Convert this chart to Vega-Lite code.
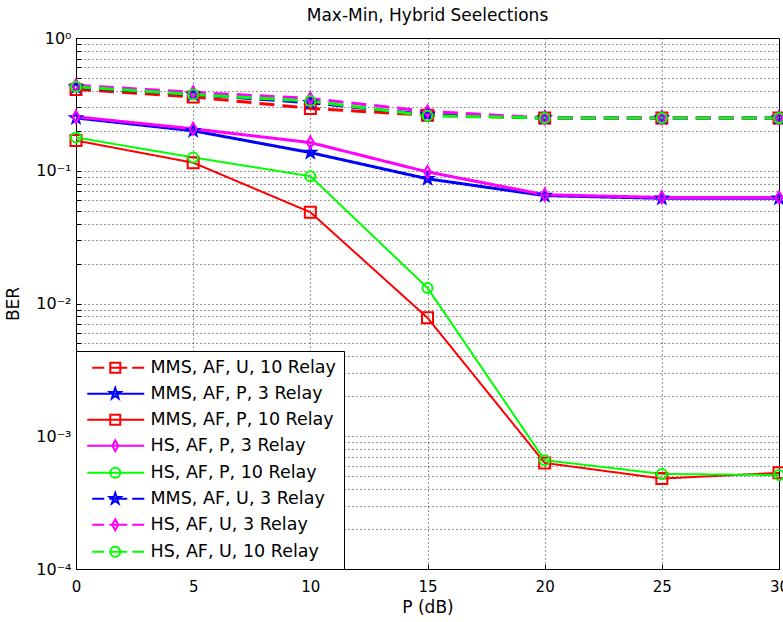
{
  "$schema": "https://vega.github.io/schema/vega-lite/v6.json",
  "width": 703,
  "height": 531,
  "autosize": {"type": "none"},
  "padding": {"left": 76, "top": 38, "right": 4, "bottom": 53},
  "background": "white",
  "title": {"text": "Max-Min, Hybrid Seelections", "font": "DejaVu Sans", "fontSize": 17, "fontWeight": "normal", "color": "#000", "offset": 5, "anchor": "middle"},
  "config": {
    "view": {"stroke": "black", "strokeWidth": 1},
    "axis": {
      "domainColor": "#000", "tickColor": "#000", "labelColor": "#000", "titleColor": "#000",
      "labelFont": "DejaVu Sans", "labelFontSize": 15, "titleFont": "DejaVu Sans", "titleFontSize": 17, "titleFontWeight": "normal",
      "gridColor": "#000", "gridDash": [1, 3], "gridOpacity": 0.8, "gridWidth": 1, "tickSize": -5
    }
  },
  "data": {"values": [
    {"series": "MMS, AF, U, 10 Relay", "p": 0, "ber": 0.41},
    {"series": "MMS, AF, U, 10 Relay", "p": 5, "ber": 0.36},
    {"series": "MMS, AF, U, 10 Relay", "p": 10, "ber": 0.295},
    {"series": "MMS, AF, U, 10 Relay", "p": 15, "ber": 0.262},
    {"series": "MMS, AF, U, 10 Relay", "p": 20, "ber": 0.25},
    {"series": "MMS, AF, U, 10 Relay", "p": 25, "ber": 0.25},
    {"series": "MMS, AF, U, 10 Relay", "p": 30, "ber": 0.25},
    {"series": "MMS, AF, P, 3 Relay", "p": 0, "ber": 0.25},
    {"series": "MMS, AF, P, 3 Relay", "p": 5, "ber": 0.2},
    {"series": "MMS, AF, P, 3 Relay", "p": 10, "ber": 0.137},
    {"series": "MMS, AF, P, 3 Relay", "p": 15, "ber": 0.087},
    {"series": "MMS, AF, P, 3 Relay", "p": 20, "ber": 0.065},
    {"series": "MMS, AF, P, 3 Relay", "p": 25, "ber": 0.062},
    {"series": "MMS, AF, P, 3 Relay", "p": 30, "ber": 0.062},
    {"series": "MMS, AF, P, 10 Relay", "p": 0, "ber": 0.169},
    {"series": "MMS, AF, P, 10 Relay", "p": 5, "ber": 0.115},
    {"series": "MMS, AF, P, 10 Relay", "p": 10, "ber": 0.0487},
    {"series": "MMS, AF, P, 10 Relay", "p": 15, "ber": 0.0078},
    {"series": "MMS, AF, P, 10 Relay", "p": 20, "ber": 0.00063},
    {"series": "MMS, AF, P, 10 Relay", "p": 25, "ber": 0.00048},
    {"series": "MMS, AF, P, 10 Relay", "p": 30, "ber": 0.00053},
    {"series": "HS, AF, P, 3 Relay", "p": 0, "ber": 0.255},
    {"series": "HS, AF, P, 3 Relay", "p": 5, "ber": 0.207},
    {"series": "HS, AF, P, 3 Relay", "p": 10, "ber": 0.163},
    {"series": "HS, AF, P, 3 Relay", "p": 15, "ber": 0.098},
    {"series": "HS, AF, P, 3 Relay", "p": 20, "ber": 0.066},
    {"series": "HS, AF, P, 3 Relay", "p": 25, "ber": 0.063},
    {"series": "HS, AF, P, 3 Relay", "p": 30, "ber": 0.063},
    {"series": "HS, AF, P, 10 Relay", "p": 0, "ber": 0.178},
    {"series": "HS, AF, P, 10 Relay", "p": 5, "ber": 0.126},
    {"series": "HS, AF, P, 10 Relay", "p": 10, "ber": 0.091},
    {"series": "HS, AF, P, 10 Relay", "p": 15, "ber": 0.0131},
    {"series": "HS, AF, P, 10 Relay", "p": 20, "ber": 0.00066},
    {"series": "HS, AF, P, 10 Relay", "p": 25, "ber": 0.00052},
    {"series": "HS, AF, P, 10 Relay", "p": 30, "ber": 0.00051},
    {"series": "MMS, AF, U, 3 Relay", "p": 0, "ber": 0.425},
    {"series": "MMS, AF, U, 3 Relay", "p": 5, "ber": 0.375},
    {"series": "MMS, AF, U, 3 Relay", "p": 10, "ber": 0.325},
    {"series": "MMS, AF, U, 3 Relay", "p": 15, "ber": 0.265},
    {"series": "MMS, AF, U, 3 Relay", "p": 20, "ber": 0.25},
    {"series": "MMS, AF, U, 3 Relay", "p": 25, "ber": 0.25},
    {"series": "MMS, AF, U, 3 Relay", "p": 30, "ber": 0.25},
    {"series": "HS, AF, U, 3 Relay", "p": 0, "ber": 0.44},
    {"series": "HS, AF, U, 3 Relay", "p": 5, "ber": 0.39},
    {"series": "HS, AF, U, 3 Relay", "p": 10, "ber": 0.35},
    {"series": "HS, AF, U, 3 Relay", "p": 15, "ber": 0.28},
    {"series": "HS, AF, U, 3 Relay", "p": 20, "ber": 0.25},
    {"series": "HS, AF, U, 3 Relay", "p": 25, "ber": 0.25},
    {"series": "HS, AF, U, 3 Relay", "p": 30, "ber": 0.25},
    {"series": "HS, AF, U, 10 Relay", "p": 0, "ber": 0.43},
    {"series": "HS, AF, U, 10 Relay", "p": 5, "ber": 0.375},
    {"series": "HS, AF, U, 10 Relay", "p": 10, "ber": 0.335},
    {"series": "HS, AF, U, 10 Relay", "p": 15, "ber": 0.26},
    {"series": "HS, AF, U, 10 Relay", "p": 20, "ber": 0.25},
    {"series": "HS, AF, U, 10 Relay", "p": 25, "ber": 0.25},
    {"series": "HS, AF, U, 10 Relay", "p": 30, "ber": 0.25}
  ]},
  "encoding": {
    "x": {"field": "p", "type": "quantitative", "title": "P (dB)",
      "scale": {"domain": [0, 30], "nice": false, "zero": false},
      "axis": {"values": [0, 5, 10, 15, 20, 25, 30], "labelPadding": 15, "titlePadding": 5, "labelFlush": false}},
    "y": {"field": "ber", "type": "quantitative", "title": "BER",
      "scale": {"type": "log", "domain": [0.0001, 1], "nice": false},
      "axis": {
        "values": [0.0001, 0.0002, 0.0003, 0.0004, 0.0005, 0.0006, 0.0007, 0.0008, 0.0009, 0.001, 0.002, 0.003, 0.004, 0.005, 0.006, 0.007, 0.008, 0.009, 0.01, 0.02, 0.03, 0.04, 0.05, 0.06, 0.07, 0.08, 0.09, 0.1, 0.2, 0.3, 0.4, 0.5, 0.6, 0.7, 0.8, 0.9, 1],
        "labelExpr": "datum.value == 1 ? '10⁰' : datum.value == 0.1 ? '10⁻¹' : datum.value == 0.01 ? '10⁻²' : datum.value == 0.001 ? '10⁻³' : datum.value == 0.0001 ? '10⁻⁴' : ''",
        "labelFontSize": 16, "labelPadding": 10, "titlePadding": 13, "labelFlush": false, "labelOverlap": false}}
  },
  "layer": [
    {
      "mark": {"type": "line", "clip": true},
      "encoding": {
        "color": {"field": "series", "type": "nominal", "legend": null,
          "scale": {"domain": ["MMS, AF, U, 10 Relay", "MMS, AF, P, 3 Relay", "MMS, AF, P, 10 Relay", "HS, AF, P, 3 Relay", "HS, AF, P, 10 Relay", "MMS, AF, U, 3 Relay", "HS, AF, U, 3 Relay", "HS, AF, U, 10 Relay"],
                    "range": ["#ff0000", "#0000ff", "#ff0000", "#ff00ff", "#00ff00", "#0000ff", "#ff00ff", "#00ff00"]}},
        "strokeDash": {"field": "series", "type": "nominal", "legend": null,
          "scale": {"domain": ["MMS, AF, U, 10 Relay", "MMS, AF, P, 3 Relay", "MMS, AF, P, 10 Relay", "HS, AF, P, 3 Relay", "HS, AF, P, 10 Relay", "MMS, AF, U, 3 Relay", "HS, AF, U, 3 Relay", "HS, AF, U, 10 Relay"],
                    "range": [[15, 8], [1, 0], [1, 0], [1, 0], [1, 0], [15, 8], [15, 8], [15, 8]]}},
        "strokeWidth": {"condition": {"test": "indexof(datum.series, 'P, 10') >= 0", "value": 2}, "value": 3}
      }
    },
    {
      "mark": {"type": "point", "filled": false, "size": 100, "strokeWidth": 2, "opacity": 1},
      "encoding": {
        "color": {"field": "series", "type": "nominal", "legend": null,
          "scale": {"domain": ["MMS, AF, U, 10 Relay", "MMS, AF, P, 3 Relay", "MMS, AF, P, 10 Relay", "HS, AF, P, 3 Relay", "HS, AF, P, 10 Relay", "MMS, AF, U, 3 Relay", "HS, AF, U, 3 Relay", "HS, AF, U, 10 Relay"],
                    "range": ["#ff0000", "#0000ff", "#ff0000", "#ff00ff", "#00ff00", "#0000ff", "#ff00ff", "#00ff00"]}},
        "shape": {"field": "series", "type": "nominal", "legend": null,
          "scale": {"domain": ["MMS, AF, U, 10 Relay", "MMS, AF, P, 3 Relay", "MMS, AF, P, 10 Relay", "HS, AF, P, 3 Relay", "HS, AF, P, 10 Relay", "MMS, AF, U, 3 Relay", "HS, AF, U, 3 Relay", "HS, AF, U, 10 Relay"],
                    "range": [
                      "M-1.1,-1.1H1.1V1.1H-1.1Z",
                      "M0,-1.15L0.265,-0.364L1.094,-0.355L0.428,0.139L0.676,0.93L0,0.45L-0.676,0.93L-0.428,0.139L-1.094,-0.355L-0.265,-0.364Z",
                      "M-1.1,-1.1H1.1V1.1H-1.1Z",
                      "M0,-1.2L0.7,0L0,1.2L-0.7,0Z",
                      "M1,0A1,1 0 1,1 -1,0A1,1 0 1,1 1,0Z",
                      "M0,-1.15L0.265,-0.364L1.094,-0.355L0.428,0.139L0.676,0.93L0,0.45L-0.676,0.93L-0.428,0.139L-1.094,-0.355L-0.265,-0.364Z",
                      "M0,-1.2L0.7,0L0,1.2L-0.7,0Z",
                      "M1,0A1,1 0 1,1 -1,0A1,1 0 1,1 1,0Z"
                    ]}}
      }
    },
    {
      "transform": [{"filter": "false"}],
      "mark": {"type": "point", "filled": false, "size": 100, "strokeWidth": 2, "opacity": 1},
      "encoding": {
        "color": {"field": "series", "type": "nominal",
          "scale": {"domain": ["MMS, AF, U, 10 Relay", "MMS, AF, P, 3 Relay", "MMS, AF, P, 10 Relay", "HS, AF, P, 3 Relay", "HS, AF, P, 10 Relay", "MMS, AF, U, 3 Relay", "HS, AF, U, 3 Relay", "HS, AF, U, 10 Relay"],
                    "range": ["#ff0000", "#0000ff", "#ff0000", "#ff00ff", "#00ff00", "#0000ff", "#ff00ff", "#00ff00"]},
          "legend": {"title": null, "orient": "bottom-left", "offset": 0, "padding": 8, "strokeColor": "black", "fillColor": "white", "cornerRadius": 0,
            "labelFont": "DejaVu Sans", "labelFontSize": 17.5, "labelColor": "black", "labelLimit": 400, "labelOffset": 49,
            "symbolSize": 100, "symbolStrokeWidth": 2, "rowPadding": 7}},
        "shape": {"field": "series", "type": "nominal",
          "scale": {"domain": ["MMS, AF, U, 10 Relay", "MMS, AF, P, 3 Relay", "MMS, AF, P, 10 Relay", "HS, AF, P, 3 Relay", "HS, AF, P, 10 Relay", "MMS, AF, U, 3 Relay", "HS, AF, U, 3 Relay", "HS, AF, U, 10 Relay"],
                    "range": [
                      "M-0.1,0H2.3M3.3,0H6.9M7.9,0H10.3M3.5,-1H5.5V1H3.5Z",
                      "M-1.1,0H10.3M4.5,-1.15L4.765,-0.364L5.594,-0.355L4.928,0.139L5.176,0.93L4.5,0.45L3.824,0.93L4.072,0.139L3.406,-0.355L4.235,-0.364Z",
                      "M-1.1,0H10.3M3.5,-1H5.5V1H3.5Z",
                      "M-1.1,0H10.3M4.5,-1.1L5.1,0L4.5,1.1L3.9,0Z",
                      "M-1.1,0H10.3M5.5,0A1,1 0 1,1 3.5,0A1,1 0 1,1 5.5,0Z",
                      "M-0.1,0H2.3M3.3,0H6.9M7.9,0H10.3M4.5,-1.15L4.765,-0.364L5.594,-0.355L4.928,0.139L5.176,0.93L4.5,0.45L3.824,0.93L4.072,0.139L3.406,-0.355L4.235,-0.364Z",
                      "M-0.1,0H2.3M3.3,0H6.9M7.9,0H10.3M4.5,-1.1L5.1,0L4.5,1.1L3.9,0Z",
                      "M-0.1,0H2.3M3.3,0H6.9M7.9,0H10.3M5.5,0A1,1 0 1,1 3.5,0A1,1 0 1,1 5.5,0Z"
                    ]},
          "legend": {"title": null, "orient": "bottom-left", "offset": 0, "padding": 8, "strokeColor": "black", "fillColor": "white", "cornerRadius": 0,
            "labelFont": "DejaVu Sans", "labelFontSize": 17.5, "labelColor": "black", "labelLimit": 400, "labelOffset": 49,
            "symbolSize": 100, "symbolStrokeWidth": 2, "rowPadding": 7}}
      }
    }
  ],
  "resolve": {"scale": {"color": "independent", "shape": "independent", "strokeDash": "independent"}}
}
